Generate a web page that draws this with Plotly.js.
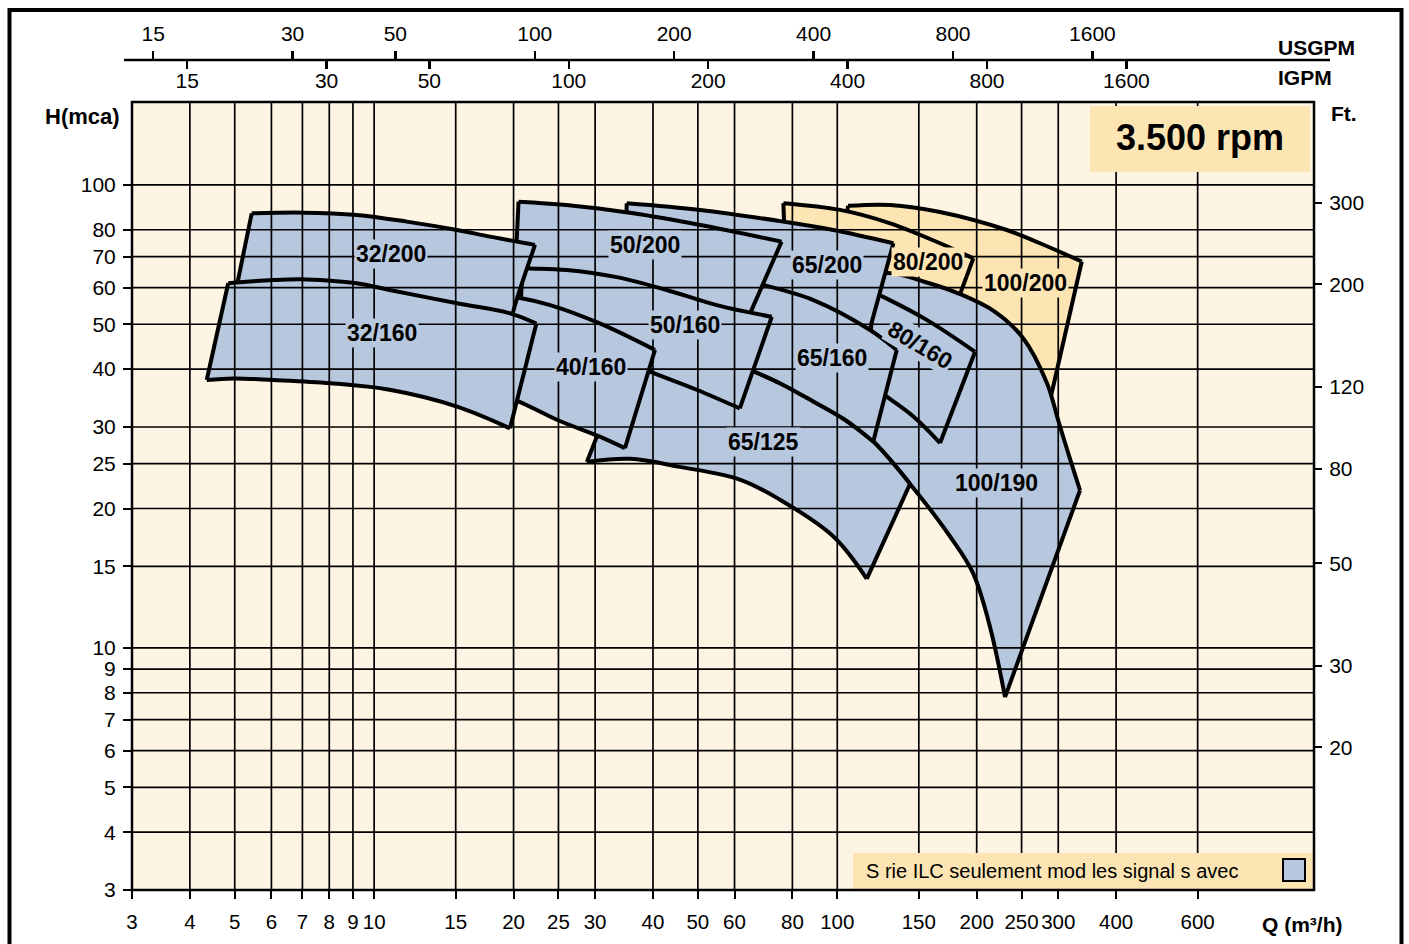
<!DOCTYPE html>
<html><head><meta charset="utf-8">
<script src="https://cdn.plot.ly/plotly-3.0.1.min.js"></script>
<style>html,body{margin:0;padding:0;background:#fff}#chart{width:1409px;height:944px}</style>
</head><body><div id="chart"></div>
<script>
// ---------- axis data ----------
const Q_TICKS = [3,4,5,6,7,8,9,10,15,20,25,30,40,50,60,80,100,150,200,250,300,400,600];
const H_TICKS = [3,4,5,6,7,8,9,10,15,20,25,30,40,50,60,70,80,100];
const FT_TICKS = [20,30,50,80,120,200,300];
const USGPM_TICKS = [15,30,50,100,200,400,800,1600];
const IGPM_TICKS = [15,30,50,100,200,400,800,1600];
const Q_MIN = 3, Q_MAX = 1070;      // m3/h
const H_MIN = 3, H_MAX = 151;       // m
const USGPM_PER_M3H = 4.5;          // as drawn on the chart's top scale
const IGPM_PER_M3H = 3.8;
const FT_PER_M = 3.2808;

// ---------- pump regions (Q m3/h, H m) ----------
const q_100_200 = [105.5,130.1,166.7,232.3,274.0,337.2,286.6,260.8,219.1,175.2,130.1,106.5];
const h_100_200 = [90.1,90.5,87.4,79.9,74.8,68.3,33.5,39.8,49.8,56.4,61.7,72.4];
const q_80_200 = [76.5,101.4,130.1,166.7,196.7,183.2,166.7,130.1,101.4,77.1];
const h_80_200 = [91.3,88.3,82.6,74.8,69.4,57.3,56.4,60.8,65.5,72.4];
const q_100_190 = [112.0,127.5,154.7,184.1,219.1,251.8,283.7,299.7,315.0,334.3,230.3,213.7,196.4,175.2,143.6,119.6,103.9,88.6,75.2,65.8,79.1];
const h_100_190 = [60.8,64.5,61.7,58.1,53.2,46.7,37.3,31.1,26.4,21.9,7.83,11.1,14.5,17.4,22.6,27.9,31.1,34.1,37.3,39.6,51.1];
const q_80_160 = [120.6,125.7,156.0,198.4,166.7,146.0,127.9,114.8];
const h_80_160 = [58.4,57.3,51.1,43.6,27.7,31.6,34.9,37.9];
const q_65_125 = [28.8,35.7,45.7,61.6,75.2,98.1,115.8,143.6,119.6,103.9,88.6,75.2,65.8,50.6,39.4,33.1,30.3];
const h_65_125 = [25.2,25.6,24.6,23.1,20.9,17.4,14.1,22.6,27.9,31.1,34.1,37.3,39.6,39.4,41.5,34.3,28.7];
const q_65_200 = [35.1,50.6,76.5,98.1,132.2,117.1,96.5,75.2,61.6,37.5,34.8];
const h_65_200 = [91.3,88.3,83.3,79.9,74.8,48.1,50.6,55.0,56.4,60.8,62.3];
const q_65_160 = [65.5,69.2,88.8,117.7,134.4,119.6,103.9,88.6,75.2,65.8,63.2];
const h_65_160 = [61.7,60.8,56.4,48.6,44.0,27.9,31.1,34.1,37.3,39.6,46.2];
const q_50_200 = [20.5,26.0,36.3,50.6,75.8,64.2,50.6,34.0,22.8,20.1];
const h_50_200 = [92.0,90.5,86.8,81.9,75.4,51.6,51.6,57.8,60.8,60.8];
const q_50_160 = [20.9,21.7,26.0,33.4,42.8,54.9,72.2,61.6,49.7,39.4,32.3,26.5,20.6];
const h_50_160 = [66.1,66.0,65.5,63.2,59.3,55.0,51.9,32.9,36.1,39.5,42.9,45.8,48.6];
const q_40_160 = [19.65,20.8,24.0,30.7,40.4,34.8,30.7,24.8,20.6,19.2];
const h_40_160 = [57.3,56.9,55.0,50.2,44.0,27.0,28.6,31.1,34.0,34.8];
const q_32_200 = [5.44,7.03,9.17,11.76,15.1,17.8,22.25,20.1,19.65,11.4,6.92,4.98];
const h_32_200 = [86.8,87.1,86.1,83.3,79.9,77.3,74.2,54.6,49.8,55.0,57.8,56.4];
const q_32_160 = [4.84,6.06,7.15,9.17,10.8,15.1,19.65,22.4,19.65,15.1,10.8,8.03,6.06,4.97,4.35];
const h_32_160 = [61.3,62.3,62.5,61.3,59.3,55.5,52.8,50.2,29.8,33.2,36.1,37.3,37.9,38.2,37.9];

// ---------- region labels ----------
const LABEL_TEXT = ['32/200','32/160','50/200','50/160','40/160','65/200','65/160','65/125','80/200','100/200','80/160','100/190'];
const LABEL_Q = [10.9,10.4,38.5,46.9,29.4,94.9,97.3,69.2,157.3,254.4,150.9,221.0];
const LABEL_H = [70.9,47.9,74.2,49.8,40.4,67.1,42.2,27.9,68.3,61.5,45.1,22.7];
const ORANGE_LABELS = ['80/200','100/200'];

const LEGEND_TEXT = 'S rie ILC seulement mod les signal s avec';
const RPM_TEXT = '3.500 rpm';

// ---------- styles ----------
const FONT = 'Liberation Sans, Arial, Helvetica, sans-serif';
const BLUE = '#B6C7DE', ORANGE = '#FDE5B3', CREAM = '#FEF4E3';

const L = Math.log10;
// pixel helpers for paper placement (plot area 132..1314 x, paper 20..890 y)
const W = 1182, PH = 870;
const px = v => (v - 132) / W;
const py = v => (890 - v) / PH;

// drawing order (bottom to top); k = indices where the outline has a sharp corner
const regions = [
  {q:q_100_200,h:h_100_200,c:ORANGE,k:[0,5,6]},
  {q:q_80_200,h:h_80_200,c:ORANGE,k:[0,4,5,9]},
  {q:q_100_190,h:h_100_190,c:BLUE,k:[0,9,10,19]},
  {q:q_80_160,h:h_80_160,c:BLUE,k:[0,3,4,7]},
  {q:q_65_125,h:h_65_125,c:BLUE,k:[0,6,7,12,16]},
  {q:q_65_200,h:h_65_200,c:BLUE,k:[0,4,5,10]},
  {q:q_65_160,h:h_65_160,c:BLUE,k:[0,4,5,9]},
  {q:q_50_200,h:h_50_200,c:BLUE,k:[0,4,5,9]},
  {q:q_50_160,h:h_50_160,c:BLUE,k:[0,6,7,12]},
  {q:q_40_160,h:h_40_160,c:BLUE,k:[0,4,5,9]},
  {q:q_32_200,h:h_32_200,c:BLUE,k:[0,6,8,11]},
  {q:q_32_160,h:h_32_160,c:BLUE,k:[0,7,8,14]}
];

const traces = [];
regions.forEach(r => {
  const n = r.q.length;
  traces.push({
    type:'scatter', mode:'lines',
    x: r.q.concat([r.q[0]]), y: r.h.concat([r.h[0]]),
    fill:'toself', fillcolor:r.c,
    line:{color:'rgba(0,0,0,0)', width:0},
    hoverinfo:'skip', showlegend:false
  });
  r.k.forEach((a, j) => {
    const b = j + 1 < r.k.length ? r.k[j + 1] : r.k[0] + n;
    const xs = [], ys = [];
    for (let i = a; i <= b; i++) { xs.push(r.q[i % n]); ys.push(r.h[i % n]); }
    traces.push({
      type:'scatter', mode:'lines', x:xs, y:ys,
      line:{color:'#000', width:4, shape:'spline', smoothing:1},
      hoverinfo:'skip', showlegend:false
    });
  });
});
// dummy traces to activate the secondary scales
traces.push({type:'scatter', x:[null], y:[null], xaxis:'x2', yaxis:'y', showlegend:false, hoverinfo:'skip'});
traces.push({type:'scatter', x:[null], y:[null], xaxis:'x3', yaxis:'y', showlegend:false, hoverinfo:'skip'});
traces.push({type:'scatter', x:[null], y:[null], xaxis:'x', yaxis:'y2', showlegend:false, hoverinfo:'skip'});

const shapes = [];
Q_TICKS.slice(1).forEach(q => shapes.push({type:'line', xref:'x', yref:'y domain', x0:q, x1:q, y0:0, y1:1, line:{color:'#000', width:1.7}, layer:'above'}));
H_TICKS.slice(1).forEach(h => shapes.push({type:'line', xref:'x domain', yref:'y', x0:0, x1:1, y0:h, y1:h, line:{color:'#000', width:1.7}, layer:'above'}));
// rpm box
shapes.push({type:'rect', xref:'paper', yref:'paper', x0:px(1090), x1:px(1310), y0:py(172), y1:py(106), fillcolor:ORANGE, line:{width:0}, layer:'above'});
// legend box
shapes.push({type:'rect', xref:'paper', yref:'paper', x0:px(853), x1:1, y0:py(889.5), y1:py(853), fillcolor:ORANGE, line:{width:0}, layer:'above'});
shapes.push({type:'rect', xref:'paper', yref:'paper', x0:px(1283), x1:px(1305), y0:py(881), y1:py(859), fillcolor:BLUE, line:{color:'#000', width:2}, layer:'above'});
// plot border
shapes.push({type:'rect', xref:'x domain', yref:'y domain', x0:0, x1:1, y0:0, y1:1, line:{color:'#000', width:2.5}, fillcolor:'rgba(0,0,0,0)', layer:'above'});
// top scale line
shapes.push({type:'line', xref:'paper', yref:'paper', x0:px(124), x1:px(1330), y0:py(60), y1:py(60), line:{color:'#000', width:2.5}, layer:'above'});
// outer frame
shapes.push({type:'rect', xref:'paper', yref:'paper', x0:px(9.5), x1:px(1401.5), y0:py(960), y1:py(10), line:{color:'#000', width:4}, fillcolor:'rgba(0,0,0,0)', layer:'above'});

const annotations = LABEL_TEXT.map((t,i) => ({
  x:L(LABEL_Q[i]), y:L(LABEL_H[i]), xref:'x', yref:'y', text:'<b>'+t+'</b>',
  xanchor:'center', yanchor:'middle',
  showarrow:false, font:{family:FONT, size:23, color:'#000'},
  bgcolor: ORANGE_LABELS.includes(t) ? ORANGE : BLUE, borderpad:1,
  textangle: t === '80/160' ? 31 : 0
}));
const paperText = (x, y, text, size, anchor) => ({
  xref:'paper', yref:'paper', x:px(x), y:py(y), text:text, showarrow:false,
  xanchor:anchor || 'center', yanchor:'middle', font:{family:FONT, size:size, color:'#000'}
});
annotations.push(
  paperText(1200, 137, '<b>'+RPM_TEXT+'</b>', 36),
  paperText(864, 871, LEGEND_TEXT, 20, 'left'),
  paperText(82, 117, '<b>H(mca)</b>', 22),
  paperText(1344, 114, '<b>Ft.</b>', 21),
  paperText(1276, 47.5, '<b>USGPM</b>', 21, 'left'),
  paperText(1276, 77.5, '<b>IGPM</b>', 21, 'left'),
  paperText(1302, 925, '<b>Q (m³/h)</b>', 21)
);

const baseAxis = {type:'log', showgrid:false, zeroline:false, showline:false, ticks:'outside', tickcolor:'#000', automargin:false, tickangle:0};

const layout = {
  width:1409, height:944,
  margin:{l:132, r:95, t:20, b:54, pad:0},
  paper_bgcolor:'#ffffff', plot_bgcolor:CREAM,
  showlegend:false,
  font:{family:FONT, color:'#000', size:20},
  xaxis:Object.assign({}, baseAxis, {
    range:[L(Q_MIN), L(Q_MAX)], domain:[0,1], anchor:'y',
    tickvals:Q_TICKS, ticktext:Q_TICKS.map(String), ticklen:8, tickwidth:2,
    tickfont:{family:FONT, size:20.5}, ticklabelstandoff:5
  }),
  yaxis:Object.assign({}, baseAxis, {
    range:[L(H_MIN), L(H_MAX)], domain:[0, 788/870], anchor:'x',
    tickvals:H_TICKS, ticktext:H_TICKS.map(String), ticklen:8, tickwidth:2,
    tickfont:{family:FONT, size:21}, ticklabelstandoff:3
  }),
  xaxis2:Object.assign({}, baseAxis, {
    overlaying:'x', anchor:'free', position:py(60), side:'top',
    range:[L(Q_MIN*USGPM_PER_M3H), L(Q_MAX*USGPM_PER_M3H)],
    tickvals:USGPM_TICKS, ticktext:USGPM_TICKS.map(String), ticklen:9, tickwidth:2.5,
    tickfont:{family:FONT, size:21}, ticklabelstandoff:2
  }),
  xaxis3:Object.assign({}, baseAxis, {
    overlaying:'x', anchor:'free', position:py(60), side:'bottom',
    range:[L(Q_MIN*IGPM_PER_M3H), L(Q_MAX*IGPM_PER_M3H)],
    tickvals:IGPM_TICKS, ticktext:IGPM_TICKS.map(String), ticklen:8, tickwidth:2.5,
    tickfont:{family:FONT, size:21}, ticklabelstandoff:-6
  }),
  yaxis2:Object.assign({}, baseAxis, {
    overlaying:'y', anchor:'x', side:'right',
    range:[L(H_MIN*FT_PER_M), L(H_MAX*FT_PER_M)],
    tickvals:FT_TICKS, ticktext:FT_TICKS.map(String), ticklen:7, tickwidth:2,
    tickfont:{family:FONT, size:21}, ticklabelstandoff:3
  }),
  shapes:shapes,
  annotations:annotations
};

Plotly.newPlot('chart', traces, layout, {staticPlot:true, displayModeBar:false});
</script>
</body></html>
